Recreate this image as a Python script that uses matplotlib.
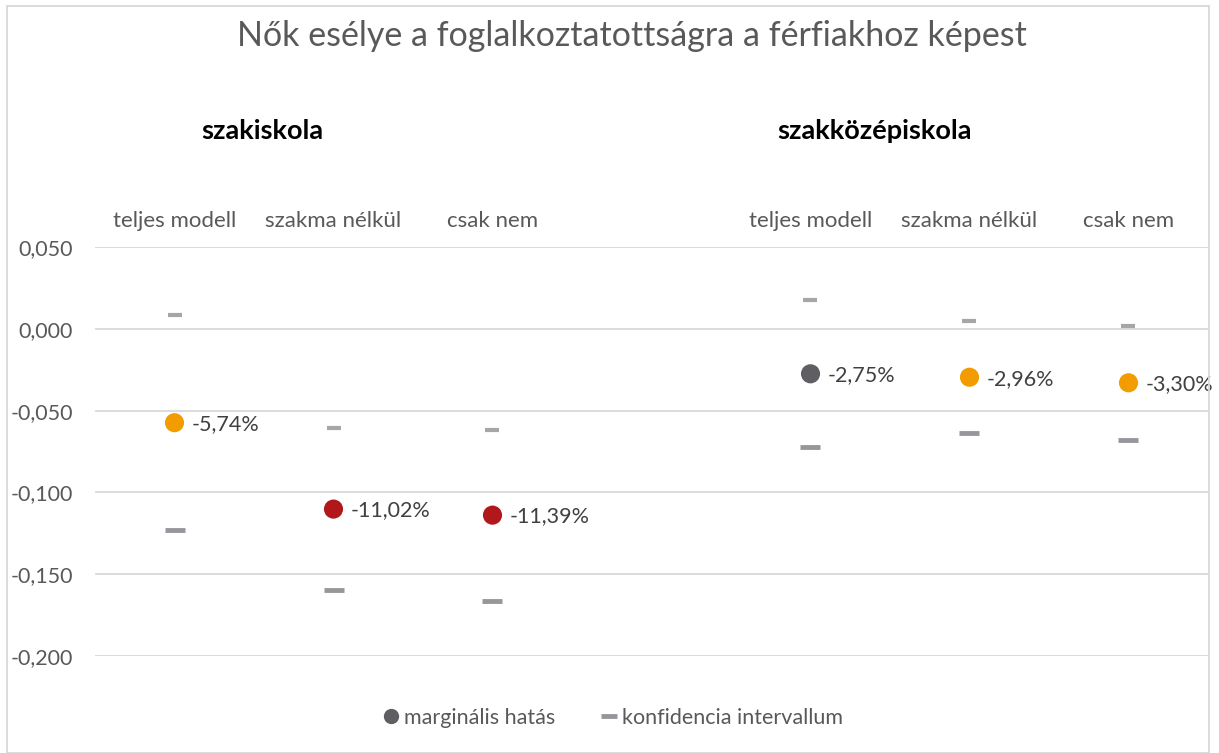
import matplotlib.pyplot as plt
from matplotlib.lines import Line2D

plt.rcParams['font.family'] = ['Lato', 'DejaVu Sans']

# Data
groups = ['szakiskola', 'szakközépiskola']
group_centres = [0.55, 4.4]
models = ['teljes modell', 'szakma nélkül', 'csak nem']
positions = [0, 1, 2, 4, 5, 6]
marginal = [-0.0574, -0.1102, -0.1139, -0.0275, -0.0296, -0.0330]
ci_upper = [0.0084, -0.0606, -0.0619, 0.0176, 0.0048, 0.0017]
ci_lower = [-0.1230, -0.1597, -0.1664, -0.0722, -0.0637, -0.0680]
point_colors = ['#F39C00', '#B0181B', '#B0181B', '#5F5F63', '#F39C00', '#F39C00']
yticks = [-0.2, -0.15, -0.1, -0.05, 0.0, 0.05]

W, H = 1219, 753
fig = plt.figure(figsize=(W / 100, H / 100), dpi=100)
ax = fig.add_axes([95 / W, 1 - 656 / H, (1208 - 95) / W, (656 - 247) / H])

for y in yticks:
    ax.axhline(y, color='#D9D9D9', linewidth=1.3, zorder=0)

ax.plot(positions, ci_upper, linestyle='none', marker='_', markersize=10,
        markeredgewidth=3, color='#A6A6A6', zorder=2)
ax.plot(positions, ci_lower, linestyle='none', marker='_', markersize=14,
        markeredgewidth=3.5, color='#97979B', zorder=2)
ax.scatter(positions, marginal, s=190, c=point_colors, zorder=3, linewidths=0)

for x, v in zip(positions, marginal):
    lbl = f"{v * 100:.2f}%".replace('.', ',')
    ax.annotate(lbl, (x, v), xytext=(12, -1), textcoords='offset points',
                va='center', ha='left', fontsize=15.5, color='#404040')

ax.set_xlim(-0.5, 6.5)
ax.set_ylim(-0.2, 0.05)
ax.set_yticks(yticks)
ax.set_yticklabels([f"{t:.3f}".replace('.', ',').replace('-0,000', '0,000') for t in yticks])
ax.tick_params(axis='y', length=0, labelsize=15.5, labelcolor='#595959', pad=16)
ax.set_xticks([])
for s in ax.spines.values():
    s.set_visible(False)

# category and group labels above the plot
for i, g in enumerate(groups):
    for j, m in enumerate(models):
        ax.text(positions[i * 3 + j], 0.0595, m, ha='center', va='bottom',
                fontsize=16, color='#595959')
    ax.text(group_centres[i], 0.1135, g, ha='center', va='bottom',
            fontsize=19.5, fontweight='bold', color='black')

fig.text(632 / W, 1 - 36 / H, 'Nők esélye a foglalkoztatottságra a férfiakhoz képest',
         ha='center', va='center', fontsize=24.5, color='#595959')

handles = [
    Line2D([], [], linestyle='none', marker='o', markersize=10, color='#5F5F63'),
    Line2D([], [], linestyle='none', marker='_', markersize=12, markeredgewidth=3.5, color='#97979B'),
]
fig.legend(handles, ['marginális hatás', 'konfidencia intervallum'],
           loc='center', bbox_to_anchor=(612 / W, 1 - 718 / H), ncol=2, frameon=False,
           fontsize=15.5, labelcolor='#595959', handletextpad=0.1, columnspacing=2.0,
           handlelength=1.0)

# chart border
fig.patches.append(plt.Rectangle((7 / W, 0.0), (1209 - 7) / W, 1 - 6 / H,
                                 transform=fig.transFigure, fill=False,
                                 edgecolor='#D9D9D9', linewidth=1.3))

fig.savefig('out.png', dpi=100)
